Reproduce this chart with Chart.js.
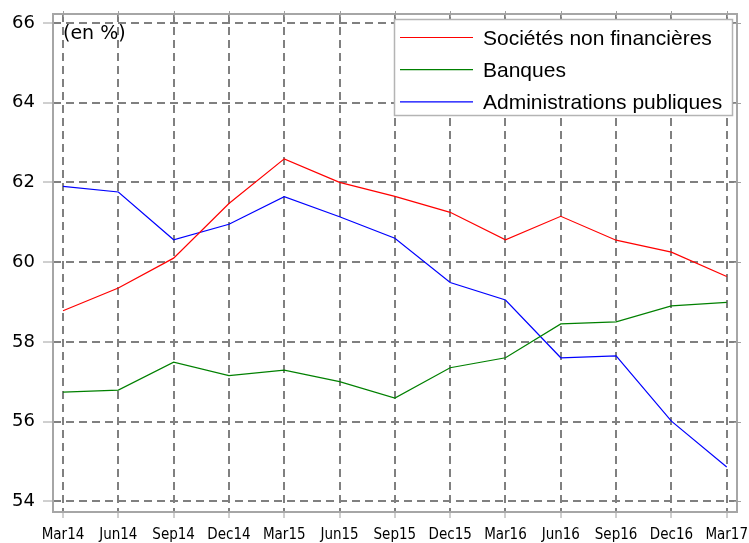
<!DOCTYPE html>
<html><head><meta charset="utf-8">
<script src="https://cdn.jsdelivr.net/npm/chart.js@4"></script>
<style>html,body{margin:0;padding:0;background:#fff}canvas{display:block}</style>
</head><body>
<canvas id="c" width="749" height="543"></canvas>
<script>
const categories = ['Mar14','Jun14','Sep14','Dec14','Mar15','Jun15','Sep15','Dec15','Mar16','Jun16','Sep16','Dec16','Mar17'];
const societes = [58.78, 59.35, 60.10, 61.47, 62.59, 62.00, 61.65, 61.25, 60.56, 61.15, 60.55, 60.25, 59.64];
const banques = [56.74, 56.79, 57.49, 57.15, 57.29, 57.00, 56.59, 57.35, 57.60, 58.45, 58.50, 58.90, 58.99];
const administrations = [61.90, 61.76, 60.56, 60.95, 61.64, 61.14, 60.60, 59.49, 59.05, 57.60, 57.65, 56.01, 54.86];
const yTicks = [54, 56, 58, 60, 62, 64, 66];
const seriesNames = ['Sociétés non financières', 'Banques', 'Administrations publiques'];
const unitLabel = '(en %)';

const toPts = arr => arr.map((v, i) => ({x: i, y: v}));
const gridColor = '#808080';

const overlay = {
  id: 'overlay',
  afterDraw(chart) {
    const {ctx, chartArea: a} = chart;
    ctx.save();
    // plot frame
    ctx.strokeStyle = '#a6a6a6';
    ctx.lineWidth = 2;
    ctx.strokeRect(a.left, a.top, a.right - a.left, a.bottom - a.top);
    // small ticks on right and top edges
    ctx.lineWidth = 1;
    ctx.strokeStyle = '#a0a0a0';
    const ys = chart.scales.y, xs = chart.scales.x;
    ys.ticks.forEach(t => { const p = Math.round(ys.getPixelForValue(t.value)) + 0.5; ctx.beginPath(); ctx.moveTo(a.right - 3, p); ctx.lineTo(a.right + 4, p); ctx.stroke(); });
    xs.ticks.forEach(t => { const p = Math.round(xs.getPixelForValue(t.value)) + 0.5; ctx.beginPath(); ctx.moveTo(p, a.top - 3); ctx.lineTo(p, a.top + 3); ctx.stroke(); });
    // unit label
    ctx.fillStyle = '#000';
    ctx.font = '19px "DejaVu Sans"';
    ctx.textBaseline = 'alphabetic';
    ctx.textAlign = 'left';
    ctx.fillText(unitLabel, a.left + 10, a.top + 25);
    // legend
    const bw = 338, bh = 96;
    const bx = a.right - 5 - bw, by = a.top + 5;
    ctx.fillStyle = '#fff';
    ctx.fillRect(bx, by, bw, bh);
    ctx.strokeStyle = '#b4b4b4';
    ctx.lineWidth = 1.5;
    ctx.strokeRect(bx + 0.5, by + 0.5, bw, bh);
    ctx.font = '21px "Liberation Sans", Arial, sans-serif';
    chart.data.datasets.forEach((ds, i) => {
      const ly = by + 18.5 + i * 32.2;
      ctx.strokeStyle = ds.borderColor;
      ctx.lineWidth = 1.2;
      ctx.beginPath(); ctx.moveTo(bx + 6, ly); ctx.lineTo(bx + 79, ly); ctx.stroke();
      ctx.fillStyle = '#000';
      ctx.fillText(ds.label, bx + 89, ly + 7.5);
    });
    ctx.restore();
  }
};

new Chart(document.getElementById('c'), {
  type: 'line',
  data: {
    datasets: [
      {label: seriesNames[0], data: toPts(societes), borderColor: '#ff0000'},
      {label: seriesNames[1], data: toPts(banques), borderColor: '#008000'},
      {label: seriesNames[2], data: toPts(administrations), borderColor: '#0000ff'}
    ]
  },
  options: {
    responsive: false,
    animation: false,
    layout: {padding: {top: 14, right: 12, left: 0, bottom: 0}},
    plugins: {legend: {display: false}, tooltip: {enabled: false}},
    elements: {point: {radius: 0}, line: {borderWidth: 1.2, tension: 0, fill: false}},
    scales: {
      x: {
        type: 'linear', min: -0.181, max: 12.186,
        afterBuildTicks: s => { s.ticks = categories.map((_, i) => ({value: i})); },
        afterFit: s => { s.height = 31; s.paddingLeft = 0; s.paddingRight = 0; },
        ticks: {
          callback: v => categories[v], autoSkip: false, maxRotation: 0, minRotation: 0,
          padding: 8, color: '#000',
          font: {family: '"DejaVu Sans Condensed", "DejaVu Sans", sans-serif', size: 15}
        },
        grid: {color: gridColor, lineWidth: 2, tickLength: 6, tickColor: '#a0a0a0', tickWidth: 1},
        border: {display: false, dash: [8, 5]}
      },
      y: {
        min: 53.73, max: 66.226,
        afterBuildTicks: s => { s.ticks = yTicks.map(v => ({value: v})); },
        afterFit: s => { s.width = 53; s.paddingTop = 0; s.paddingBottom = 0; },
        ticks: {
          padding: 8, color: '#000',
          font: {family: '"DejaVu Sans", sans-serif', size: 18}
        },
        grid: {color: gridColor, lineWidth: 2, tickLength: 10, tickColor: '#a0a0a0', tickWidth: 1},
        border: {display: false, dash: [8, 5]}
      }
    }
  },
  plugins: [overlay]
});
</script>
</body></html>
